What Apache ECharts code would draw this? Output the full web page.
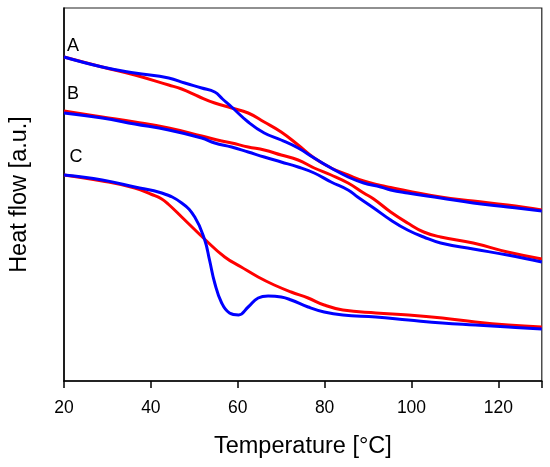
<!DOCTYPE html>
<html>
<head>
<meta charset="utf-8">
<script src="https://cdn.jsdelivr.net/npm/echarts@6/dist/echarts.min.js"></script>
<style>html,body{margin:0;padding:0;background:#fff}#c{width:550px;height:467px}</style>
</head>
<body>
<div id="c"></div>
<script>
// Temperatures (°C) and heat flow (a.u.)
var tArA = [20, 28.8, 36.3, 44.1, 47.1, 51, 54.7, 58.6, 62.4, 66.1, 70, 73.9, 77.6, 81.5, 85.4, 89, 92.9, 95.2, 99.1, 106.7, 114.2, 122.1, 130];
var hfAred = [32.4, 31.4, 30.6, 29.6, 29.2, 28.45, 27.8, 27.3, 26.8, 25.9, 24.9, 23.6, 22.3, 21.3, 20.6, 20.0, 19.55, 19.35, 19.0, 18.4, 18.0, 17.6, 17.1];

var tAbA = [20, 28.8, 36.3, 44.1, 47.8, 51.7, 54.7, 56.5, 58.6, 62.4, 66.1, 70, 73.9, 77.6, 81.5, 85.4, 89, 92.9, 95.2, 99.1, 106.7, 114.2, 122.1, 130];
var hfAblue = [32.4, 31.4, 30.8, 30.3, 29.8, 29.3, 28.9, 28.2, 27.4, 25.9, 24.8, 24.1, 23.3, 22.3, 21.3, 20.4, 19.8, 19.4, 19.1, 18.8, 18.3, 17.8, 17.4, 17.0];

var tBr = [20, 28.8, 36.3, 44.1, 51.7, 56.3, 58.6, 62.4, 66.1, 70, 73.9, 77.6, 81.5, 85.4, 89, 91.3, 95.2, 99.1, 102.8, 106.7, 114.2, 122.1, 130];
var hfBred = [27.0, 26.4, 25.9, 25.3, 24.5, 24.0, 23.8, 23.4, 23.1, 22.6, 22.1, 21.3, 20.6, 19.8, 18.8, 18.2, 16.9, 15.8, 14.9, 14.4, 13.8, 12.9, 12.2];

var tBb = [20, 28.8, 36.3, 44.1, 51.7, 54.7, 58.6, 62.4, 66.1, 70, 73.9, 77.6, 81.5, 85.4, 87.6, 91.3, 95.2, 99.1, 102.8, 106.7, 114.2, 122.1, 130];
var hfBblue = [26.8, 26.3, 25.7, 25.1, 24.3, 23.8, 23.4, 22.9, 22.4, 21.9, 21.4, 20.8, 19.9, 19.1, 18.4, 17.3, 16.1, 15.1, 14.4, 13.8, 13.2, 12.6, 11.9];

var tCr = [20, 28.8, 36.3, 40.2, 42.5, 44.1, 47.1, 52.1, 57, 60.8, 64.7, 68.4, 72.3, 76.2, 79.9, 84.2, 91.8, 99.3, 107.1, 114.7, 122.3, 130];
var hfCred = [20.6, 20.0, 19.3, 18.65, 18.2, 17.65, 16.4, 14.3, 12.4, 11.4, 10.4, 9.6, 8.9, 8.3, 7.6, 7.1, 6.8, 6.6, 6.3, 5.9, 5.6, 5.4];

var tCb = [20, 28.8, 36.3, 42.5, 47.1, 50.1, 52.4, 53.5, 54.7, 56.3, 58.1, 60.2, 62.4, 64.7, 67, 70, 72.3, 76.2, 79.9, 84.2, 91.8, 99.3, 107.1, 114.7, 122.3, 130];
var hfCblue = [20.6, 20.1, 19.4, 18.8, 17.8, 16.4, 14.1, 12.1, 9.8, 7.8, 6.8, 6.6, 7.4, 8.3, 8.5, 8.4, 8.1, 7.4, 6.9, 6.6, 6.4, 6.1, 5.8, 5.6, 5.4, 5.2];

var curveLabels = ['A', 'B', 'C'];
var xTicks = [20, 40, 60, 80, 100, 120];

function pairs(xs, ys) { return xs.map(function (x, i) { return [x, ys[i]]; }); }

var FONT = 'Liberation Sans, Arial, sans-serif';
var RED = '#ff0000', BLUE = '#0000ff';

function line(name, xs, ys, color) {
  return {
    name: name, type: 'line', smooth: 0.45, showSymbol: false, symbol: 'none',
    data: pairs(xs, ys), lineStyle: { color: color, width: 3 }, animation: false
  };
}

var chart = echarts.init(document.getElementById('c'), null, { renderer: 'canvas' });
chart.setOption({
  animation: false,
  backgroundColor: '#fff',
  grid: { left: 61.7, right: 8.2, top: 8, bottom: 86, show: true, borderColor: '#222', borderWidth: 1.2, backgroundColor: 'transparent' },
  xAxis: {
    type: 'value', min: 20, max: 130, interval: 20,
    name: 'Temperature [°C]', nameLocation: 'middle', nameGap: 54,
    nameTextStyle: { fontFamily: FONT, fontSize: 23.5, color: '#000' },
    axisLine: { show: true, lineStyle: { color: '#000', width: 1.5 } },
    axisTick: { show: true, length: 7, lineStyle: { color: '#000', width: 1.5 } },
    axisLabel: { fontFamily: FONT, fontSize: 17.5, color: '#000', margin: 18,
      formatter: function (v) { return xTicks.indexOf(v) >= 0 ? String(v) : ''; } },
    splitLine: { show: false }
  },
  yAxis: {
    type: 'value', min: 0, max: 37.3,
    name: 'Heat flow [a.u.]', nameLocation: 'middle', nameGap: 32,
    nameTextStyle: { fontFamily: FONT, fontSize: 23.5, color: '#000' },
    axisLine: { show: true, lineStyle: { color: '#000', width: 1.5 } },
    axisTick: { show: false }, axisLabel: { show: false }, splitLine: { show: false }
  },
  series: [
    line('A red', tArA, hfAred, RED),
    line('A blue', tAbA, hfAblue, BLUE),
    line('B red', tBr, hfBred, RED),
    line('B blue', tBb, hfBblue, BLUE),
    line('C red', tCr, hfCred, RED),
    line('C blue', tCb, hfCblue, BLUE)
  ],
  graphic: [
    { type: 'text', x: 73, y: 46, style: { text: curveLabels[0], font: '18px ' + FONT, fill: '#000', textAlign: 'center', textVerticalAlign: 'middle' } },
    { type: 'text', x: 73, y: 94, style: { text: curveLabels[1], font: '18px ' + FONT, fill: '#000', textAlign: 'center', textVerticalAlign: 'middle' } },
    { type: 'text', x: 76, y: 157, style: { text: curveLabels[2], font: '18px ' + FONT, fill: '#000', textAlign: 'center', textVerticalAlign: 'middle' } }
  ]
});
</script>
</body>
</html>
